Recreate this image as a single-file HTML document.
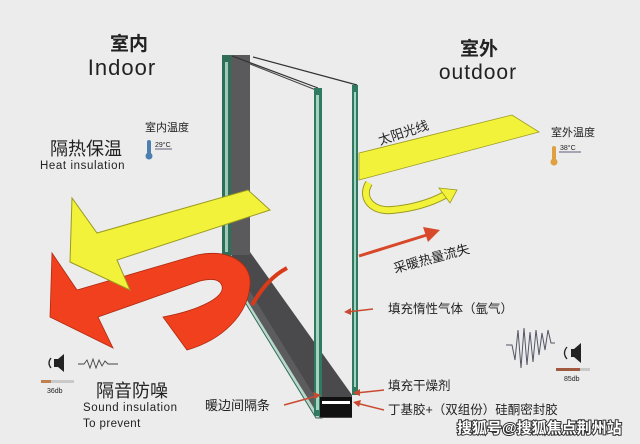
<!DOCTYPE html>
<html><head><meta charset="utf-8"><style>
html,body{margin:0;padding:0;background:#ececec;}
svg{display:block;}
text{font-family:"Liberation Sans","Noto Sans CJK SC",sans-serif;fill:#222;}
</style></head><body>
<svg width="640" height="444" viewBox="0 0 640 444" xmlns="http://www.w3.org/2000/svg">
<rect width="640" height="444" fill="#ececec"/>
<text x="129" y="50" font-size="19" font-weight="bold" text-anchor="middle">室内</text>
<text x="122" y="75" font-size="22" text-anchor="middle" letter-spacing="1">Indoor</text>
<text x="479" y="55" font-size="19" font-weight="bold" text-anchor="middle">室外</text>
<text x="478" y="79" font-size="21" text-anchor="middle" letter-spacing="1">outdoor</text>

<!-- glass -->
<polygon points="224,256 232,256 322,405 322,418 316,418 224,268" fill="#b9d8cb" stroke="#2e6a55" stroke-width="1"/>
<polygon points="232,252 250,252 352,395 352,418 320,418 232,270" fill="#4a4a4c"/>
<polygon points="232,262 320,405 320,418 232,276" fill="#5c5c5e"/>
<rect x="230" y="55" width="20" height="200" fill="#5a5a5c"/>
<rect x="222" y="55" width="9" height="202" fill="#2f6f58"/>
<rect x="225" y="62" width="3" height="190" fill="#9fc9b8"/>
<line x1="232" y1="56" x2="318" y2="88" stroke="#333" stroke-width="1.2"/>
<line x1="250" y1="64" x2="316" y2="90" stroke="#444" stroke-width="1"/>
<line x1="253" y1="57" x2="357" y2="85" stroke="#333" stroke-width="1.2"/>
<rect x="314" y="88" width="8" height="328" fill="#2f7a60"/>
<rect x="316" y="95" width="3" height="315" fill="#a8d2c0"/>
<rect x="352" y="85" width="6" height="310" fill="#2f7a60"/>
<rect x="354" y="92" width="2" height="295" fill="#a8d2c0"/>
<rect x="320" y="397" width="32" height="20" fill="#111"/>
<rect x="322" y="401" width="28" height="3" fill="#fff"/>

<!-- red U arrow -->
<path d="M52,253 L77,290 L197,255 C232,248 252,265 250,285 C248,315 222,340 187,350 L163,317 C200,310 225,297 222,286 C220,279 212,278 200,281 L98,317 L113,348 L50,317 Z" fill="#f0401e" stroke="#b02a10" stroke-width="0.8"/>
<path d="M252,305 C262,288 272,276 287,268" stroke="#d83a1a" stroke-width="4" fill="none"/>

<!-- yellow left arrow -->
<polygon points="248,190 270,210 117,260 130,290 70,262 72,198 97,233" fill="#f3f23a" stroke="#9a9a20" stroke-width="1"/>

<!-- yellow right arrow -->
<polygon points="359,153 512,115 539,132 359,180" fill="#f3f23a" stroke="#9a9a20" stroke-width="0.8"/>
<path d="M369,183 C360,198 372,212 392,210 C415,208 432,202 445,195" stroke="#9a9a20" stroke-width="8" fill="none"/>
<path d="M369,183 C360,198 372,212 392,210 C415,208 432,202 445,195" stroke="#f3f23a" stroke-width="6" fill="none"/>
<polygon points="439,188 457,190 450,203" fill="#f3f23a" stroke="#9a9a20" stroke-width="0.8"/>

<line x1="359" y1="256" x2="430" y2="234" stroke="#d8482a" stroke-width="3"/>
<polygon points="423,227 440,230 428,242" fill="#d8482a"/>

<text x="0" y="0" font-size="13" transform="translate(380,145) rotate(-18)">太阳光线</text>
<text x="0" y="0" font-size="13" transform="translate(395,273) rotate(-15)">采暖热量流失</text>

<text x="388" y="313" font-size="12.5">填充惰性气体（氩气）</text>
<line x1="373" y1="309" x2="347" y2="312" stroke="#c84a30" stroke-width="1.5"/>
<polygon points="344,312 351,308 351,315" fill="#c84a30"/>
<text x="388" y="390" font-size="12.5">填充干燥剂</text>
<line x1="384" y1="390" x2="356" y2="393" stroke="#c84a30" stroke-width="1.5"/>
<polygon points="353,393 360,389 360,396" fill="#c84a30"/>
<text x="388" y="414" font-size="12.5">丁基胶+（双组份）硅酮密封胶</text>
<line x1="384" y1="410" x2="356" y2="403" stroke="#c84a30" stroke-width="1.5"/>
<polygon points="353,402 361,400 359,407" fill="#c84a30"/>
<text x="205" y="410" font-size="13">暖边间隔条</text>
<line x1="284" y1="405" x2="317" y2="396" stroke="#c84a30" stroke-width="1.5"/>
<polygon points="321,395 313,392 315,399" fill="#c84a30"/>

<text x="50" y="155" font-size="18">隔热保温</text>
<text x="40" y="169" font-size="11.5" letter-spacing="0.6">Heat insulation</text>
<text x="145" y="131" font-size="11">室内温度</text>
<rect x="147" y="140" width="4" height="14" rx="2" fill="#4a7fb0"/>
<circle cx="149" cy="156" r="3.5" fill="#4a7fb0"/>
<text x="155" y="147" font-size="7">29°C</text>
<line x1="155" y1="149" x2="172" y2="149" stroke="#335" stroke-width="0.8"/>

<text x="551" y="136" font-size="11">室外温度</text>
<rect x="552" y="146" width="4" height="14" rx="2" fill="#e0a040"/>
<circle cx="554" cy="162" r="3.5" fill="#e0a040"/>
<text x="560" y="150" font-size="7">38°C</text>
<line x1="559" y1="152" x2="581" y2="152" stroke="#335" stroke-width="0.8"/>

<text x="96" y="397" font-size="18">隔音防噪</text>
<text x="83" y="411" font-size="11.5" letter-spacing="0.6">Sound insulation</text>
<text x="83" y="427" font-size="11.5" letter-spacing="0.4">To prevent</text>

<path d="M54,359 L58,359 L64,354 L64,372 L58,367 L54,367 Z" fill="#222"/>
<path d="M51,358 Q47,363 51,368" stroke="#222" stroke-width="1.3" fill="none"/>
<path d="M78,364 L84,364 L87,360 L90,368 L93,359 L96,368 L99,360 L102,366 L105,361 L108,364 L118,364" stroke="#444" stroke-width="0.9" fill="none"/>
<rect x="41" y="380" width="33" height="3" fill="#c9c9c9"/>
<rect x="41" y="380" width="10" height="3" fill="#c08050"/>
<text x="47" y="393" font-size="7">36db</text>

<path d="M571,349 L574,349 L581,343 L581,363 L574,357 L571,357 Z" fill="#222"/>
<path d="M567,347 Q562,353 567,359" stroke="#222" stroke-width="1.3" fill="none"/>
<path d="M506,345 L512,345 L515,360 L518,330 L521,368 L524,328 L527,365 L530,332 L533,362 L536,330 L539,355 L542,333 L545,350 L548,330 L551,343 L555,343" stroke="#556" stroke-width="1" fill="none"/>
<rect x="556" y="368" width="34" height="3" fill="#c9c9c9"/>
<rect x="556" y="368" width="24" height="3" fill="#a05a40"/>
<text x="564" y="381" font-size="7">85db</text>

<text x="457" y="433" font-size="15" font-weight="bold" stroke="#333" stroke-width="2" paint-order="stroke" style="fill:#fff">搜狐号@搜狐焦点荆州站</text>
</svg>
</body></html>
